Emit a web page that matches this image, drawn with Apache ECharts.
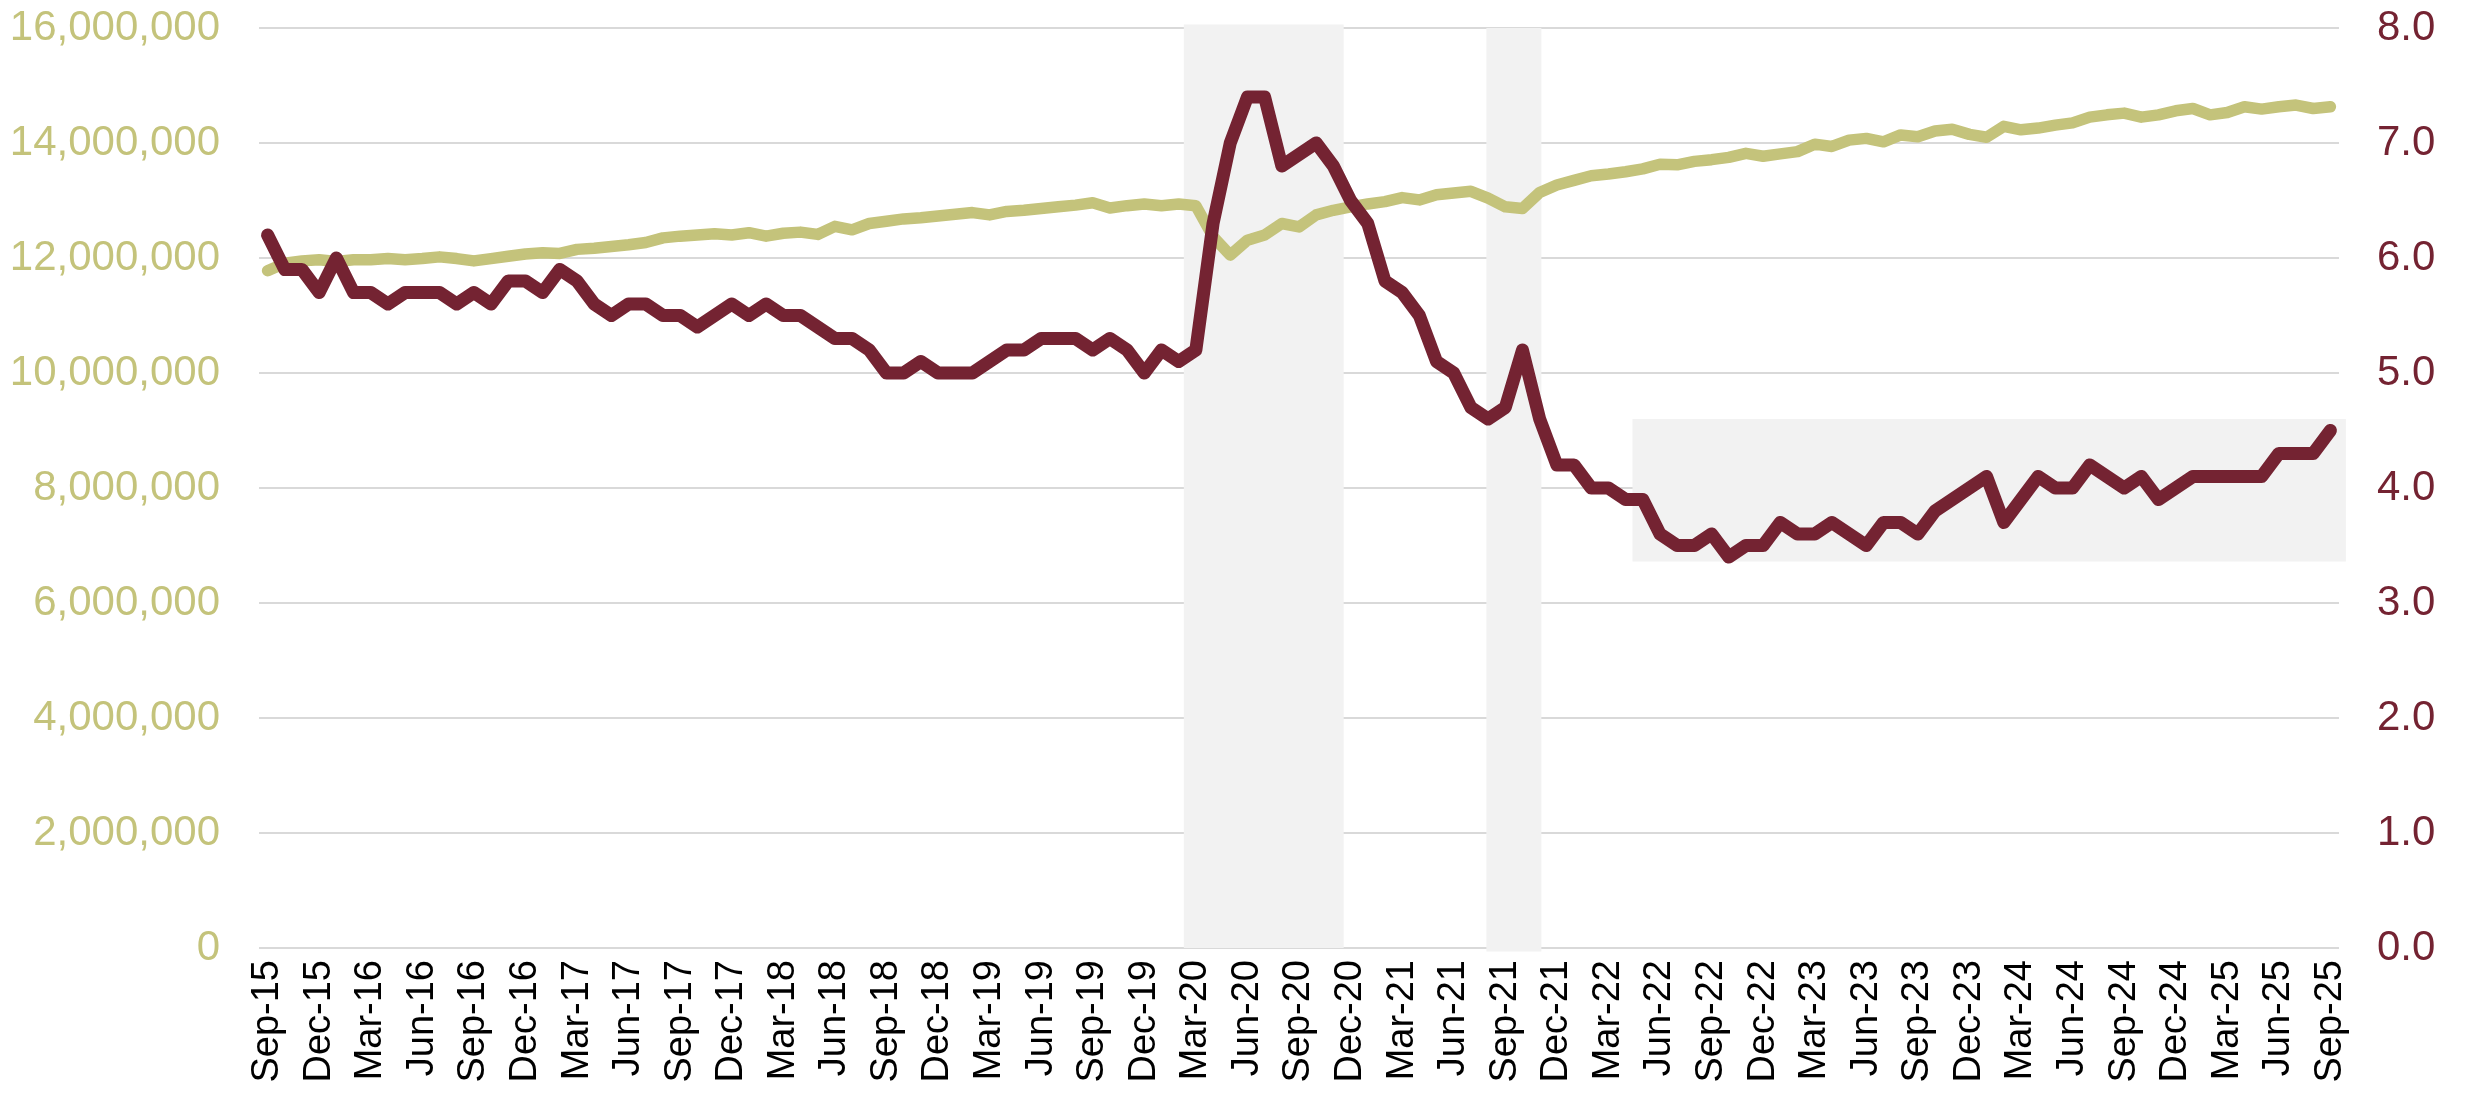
<!DOCTYPE html>
<html>
<head>
<meta charset="utf-8">
<script src="https://cdn.jsdelivr.net/npm/echarts@6/dist/echarts.min.js"></script>
<style>
  html, body { margin: 0; padding: 0; background: #fff; }
  #chart { width: 2466px; height: 1095px; }
</style>
</head>
<body>
<div id="chart"></div>
<script>
// monthly labels Sep-15 .. Sep-25
const monthNames = ["Jan", "Feb", "Mar", "Apr", "May", "Jun", "Jul", "Aug", "Sep", "Oct", "Nov", "Dec"];
const categories = [];
for (let k = 0; k < 121; k++) {
  const m = (8 + k) % 12;
  const yr = 15 + Math.floor((8 + k) / 12);
  categories.push(monthNames[m] + "-" + yr);
}

// left axis series (olive)
const employment = [
  11780000, 11910000, 11950000, 11970000, 11940000, 11970000, 11970000, 11990000, 11970000, 11990000,
  12020000, 11990000, 11950000, 11990000, 12030000, 12070000, 12090000, 12080000, 12150000, 12170000,
  12200000, 12230000, 12270000, 12350000, 12380000, 12400000, 12420000, 12400000, 12440000, 12380000,
  12430000, 12450000, 12410000, 12550000, 12490000, 12600000, 12640000, 12680000, 12700000, 12730000,
  12760000, 12790000, 12750000, 12810000, 12830000, 12860000, 12890000, 12920000, 12960000, 12870000,
  12910000, 12940000, 12910000, 12940000, 12910000, 12370000, 12050000, 12310000, 12400000, 12600000,
  12540000, 12750000, 12830000, 12890000, 12940000, 12980000, 13050000, 13010000, 13100000, 13130000,
  13160000, 13040000, 12890000, 12860000, 13140000, 13270000, 13350000, 13430000, 13460000, 13500000,
  13550000, 13630000, 13620000, 13680000, 13710000, 13750000, 13820000, 13770000, 13810000, 13850000,
  13980000, 13940000, 14050000, 14080000, 14020000, 14140000, 14110000, 14210000, 14240000, 14150000,
  14100000, 14290000, 14230000, 14260000, 14310000, 14350000, 14450000, 14490000, 14520000, 14450000,
  14490000, 14560000, 14600000, 14490000, 14530000, 14630000, 14590000, 14630000, 14660000, 14600000,
  14630000
];

// right axis series (maroon)
const rate = [
  6.2, 5.9, 5.9, 5.7, 6.0, 5.7, 5.7, 5.6, 5.7, 5.7,
  5.7, 5.6, 5.7, 5.6, 5.8, 5.8, 5.7, 5.9, 5.8, 5.6,
  5.5, 5.6, 5.6, 5.5, 5.5, 5.4, 5.5, 5.6, 5.5, 5.6,
  5.5, 5.5, 5.4, 5.3, 5.3, 5.2, 5.0, 5.0, 5.1, 5.0,
  5.0, 5.0, 5.1, 5.2, 5.2, 5.3, 5.3, 5.3, 5.2, 5.3,
  5.2, 5.0, 5.2, 5.1, 5.2, 6.3, 7.0, 7.4, 7.4, 6.8,
  6.9, 7.0, 6.8, 6.5, 6.3, 5.8, 5.7, 5.5, 5.1, 5.0,
  4.7, 4.6, 4.7, 5.2, 4.6, 4.2, 4.2, 4.0, 4.0, 3.9,
  3.9, 3.6, 3.5, 3.5, 3.6, 3.4, 3.5, 3.5, 3.7, 3.6,
  3.6, 3.7, 3.6, 3.5, 3.7, 3.7, 3.6, 3.8, 3.9, 4.0,
  4.1, 3.7, 3.9, 4.1, 4.0, 4.0, 4.2, 4.1, 4.0, 4.1,
  3.9, 4.0, 4.1, 4.1, 4.1, 4.1, 4.1, 4.3, 4.3, 4.3,
  4.5
];

// shaded bands: [from month index, to month index, right-axis low, right-axis high]
const shadeBands = [
  [53.8, 63.1, 0, 8.03],
  [71.4, 74.6, -0.03, 8.0],
  [79.9, 121.4, 3.36, 4.6]
];

const olive = "#c4c37b";
const maroon = "#742332";
const font = "'Liberation Sans', Arial, sans-serif";

const chart = echarts.init(document.getElementById("chart"));

const option = {
  backgroundColor: "#ffffff",
  animation: false,
  grid: { left: 259, right: 127, top: 28, bottom: 147 },
  xAxis: [
    {
      type: "category",
      data: categories,
      boundaryGap: true,
      axisLine: { show: false },
      axisTick: { show: false },
      axisLabel: {
        interval: 2,
        rotate: 90,
        margin: 12,
        color: "#000000",
        fontSize: 38,
        fontFamily: font,
      },
      splitLine: { show: false },
    },
    {
      type: "value",
      min: 0,
      max: 121,
      show: false,
    },
  ],
  yAxis: [
    {
      type: "value",
      min: 0,
      max: 16000000,
      interval: 2000000,
      axisLine: { show: false },
      axisTick: { show: false },
      axisLabel: {
        margin: 39,
        color: olive,
        fontSize: 42,
        fontFamily: font,
        formatter: (v) => v.toLocaleString("en-US"),
      },
      splitLine: { lineStyle: { color: "#d9d9d9", width: 2 } },
    },
    {
      type: "value",
      min: 0,
      max: 8,
      interval: 1,
      axisLine: { show: false },
      axisTick: { show: false },
      axisLabel: {
        margin: 38,
        color: maroon,
        fontSize: 42,
        fontFamily: font,
        formatter: (v) => v.toFixed(1),
      },
      splitLine: { show: false },
    },
  ],
  series: [
    {
      type: "custom",
      xAxisIndex: 1,
      yAxisIndex: 1,
      z: 1,
      silent: true,
      data: shadeBands,
      renderItem: (params, api) => {
        const p0 = api.coord([api.value(0), api.value(3)]);
        const p1 = api.coord([api.value(1), api.value(2)]);
        return {
          type: "rect",
          shape: { x: p0[0], y: p0[1], width: p1[0] - p0[0], height: p1[1] - p0[1] },
          style: { fill: "#f2f2f2" },
        };
      },
    },
    {
      name: "employment",
      type: "line",
      yAxisIndex: 0,
      data: employment,
      symbol: "none",
      z: 3,
      lineStyle: { color: olive, width: 11.5, cap: "round", join: "round" },
    },
    {
      name: "rate",
      type: "line",
      yAxisIndex: 1,
      data: rate,
      symbol: "none",
      z: 4,
      lineStyle: { color: maroon, width: 13, cap: "round", join: "round" },
    },
  ],
};

chart.setOption(option);
window.onresize = chart.resize;
</script>
</body>
</html>
